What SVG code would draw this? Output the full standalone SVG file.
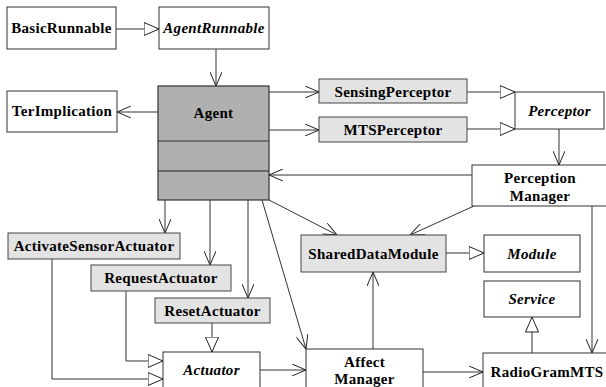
<svg xmlns="http://www.w3.org/2000/svg" width="606" height="387" viewBox="0 0 606 387">
<defs>
<marker id="open" viewBox="0 0 14 12" refX="14" refY="6" markerWidth="14" markerHeight="12" markerUnits="userSpaceOnUse" orient="auto">
<path d="M0,0 L14,6 L0,12" fill="none" stroke="#222" stroke-width="1"/>
</marker>
<marker id="tri" viewBox="0 0 16 14" refX="15.5" refY="7" markerWidth="16" markerHeight="14" markerUnits="userSpaceOnUse" orient="auto">
<path d="M0.5,0.5 L15.5,7 L0.5,13.5 Z" fill="#fff" stroke="#222" stroke-width="1"/>
</marker>
</defs>
<style>
.b{fill:#fff;stroke:#333;stroke-width:1}
.g{fill:#e3e3e3;stroke:#444;stroke-width:1}
.a{fill:#b0b0b0;stroke:#333;stroke-width:1.2}
text{font-family:"Liberation Serif","Times New Roman",serif;font-weight:bold;font-size:15px;letter-spacing:0.3px;text-anchor:middle;fill:#000}
.i{font-style:italic}
.c line,.c path{fill:none;stroke:#333;stroke-width:1}
.o{marker-end:url(#open)}
.t{marker-end:url(#tri)}
</style>
<rect width="606" height="387" fill="#fff"/>
<g class="c" id="connectors">
<line class="t" x1="116" y1="29" x2="159" y2="29"/>
<line class="o" x1="216" y1="49" x2="216" y2="86"/>
<line class="o" x1="158" y1="112" x2="117" y2="112"/>
<line class="o" x1="269" y1="92" x2="319" y2="92"/>
<line class="o" x1="269" y1="130" x2="319" y2="130"/>
<line class="t" x1="467" y1="92" x2="515" y2="92"/>
<line class="t" x1="467" y1="129" x2="515" y2="129"/>
<line class="o" x1="559" y1="129" x2="559" y2="165"/>
<line class="o" x1="472" y1="175" x2="269" y2="175"/>
<line class="o" x1="592" y1="206" x2="592" y2="353"/>
<line class="o" x1="474" y1="206" x2="410" y2="235"/>
<line class="o" x1="269" y1="200" x2="337" y2="235"/>
<line class="t" x1="446" y1="253" x2="484" y2="253"/>
<line class="t" x1="532" y1="353" x2="532" y2="317"/>
<line class="o" x1="373" y1="349" x2="373" y2="272"/>
<line class="o" x1="423" y1="372" x2="483" y2="372"/>
<line class="o" x1="262" y1="200" x2="306" y2="349"/>
<line class="o" x1="165" y1="200" x2="165" y2="233"/>
<line class="o" x1="210" y1="200" x2="210" y2="265"/>
<line class="o" x1="248" y1="200" x2="248" y2="298"/>
<line class="t" x1="212" y1="323" x2="212" y2="352"/>
<path class="t" d="M126,291 V361 H163"/>
<path class="t" d="M52,259 V379 H163"/>
<line class="o" x1="260" y1="370" x2="306" y2="370"/>
</g>
<g id="BasicRunnable"><rect class="b" x="7" y="7" width="109" height="42"/><text x="61.5" y="33">BasicRunnable</text></g>
<g id="AgentRunnable"><rect class="b" x="159" y="7" width="110" height="42"/><text class="i" x="214" y="33">AgentRunnable</text></g>
<g id="TerImplication"><rect class="b" x="7" y="91" width="110" height="41"/><text x="62" y="116">TerImplication</text></g>
<g id="Agent"><rect class="a" x="158" y="86" width="111" height="114"/><line x1="158" y1="141" x2="269" y2="141" stroke="#333" stroke-width="1.2"/><line x1="158" y1="171" x2="269" y2="171" stroke="#222" stroke-width="1.2"/><text x="213.5" y="118">Agent</text></g>
<g id="SensingPerceptor"><rect class="g" x="319" y="79" width="148" height="24"/><text x="393" y="97">SensingPerceptor</text></g>
<g id="MTSPerceptor"><rect class="g" x="319" y="117" width="148" height="25"/><text x="393" y="135">MTSPerceptor</text></g>
<g id="Perceptor"><rect class="b" x="515" y="92" width="89" height="37"/><text class="i" x="559.5" y="116">Perceptor</text></g>
<g id="PerceptionManager"><rect class="b" x="472" y="165" width="140" height="41"/><text x="540" y="183">Perception</text><text x="540" y="201">Manager</text></g>
<g id="SharedDataModule"><rect class="g" x="301" y="235" width="145" height="37"/><text x="373.5" y="259">SharedDataModule</text></g>
<g id="Module"><rect class="b" x="484" y="235" width="96" height="37"/><text class="i" x="532" y="259">Module</text></g>
<g id="Service"><rect class="b" x="484" y="281" width="96" height="36"/><text class="i" x="532" y="304">Service</text></g>
<g id="RadioGramMTS"><rect class="b" x="483" y="353" width="130" height="40"/><text x="547" y="377">RadioGramMTS</text></g>
<g id="AffectManager"><rect class="b" x="306" y="349" width="117" height="44"/><text x="364.5" y="367">Affect</text><text x="364.5" y="384">Manager</text></g>
<g id="ActivateSensorActuator"><rect class="g" x="8" y="233" width="172" height="26"/><text x="94" y="251">ActivateSensorActuator</text></g>
<g id="RequestActuator"><rect class="g" x="91" y="265" width="140" height="26"/><text x="161" y="283">RequestActuator</text></g>
<g id="ResetActuator"><rect class="g" x="155" y="298" width="115" height="25"/><text x="212.5" y="316">ResetActuator</text></g>
<g id="Actuator"><rect class="b" x="163" y="352" width="97" height="40"/><text class="i" x="211.5" y="375">Actuator</text></g>
</svg>
